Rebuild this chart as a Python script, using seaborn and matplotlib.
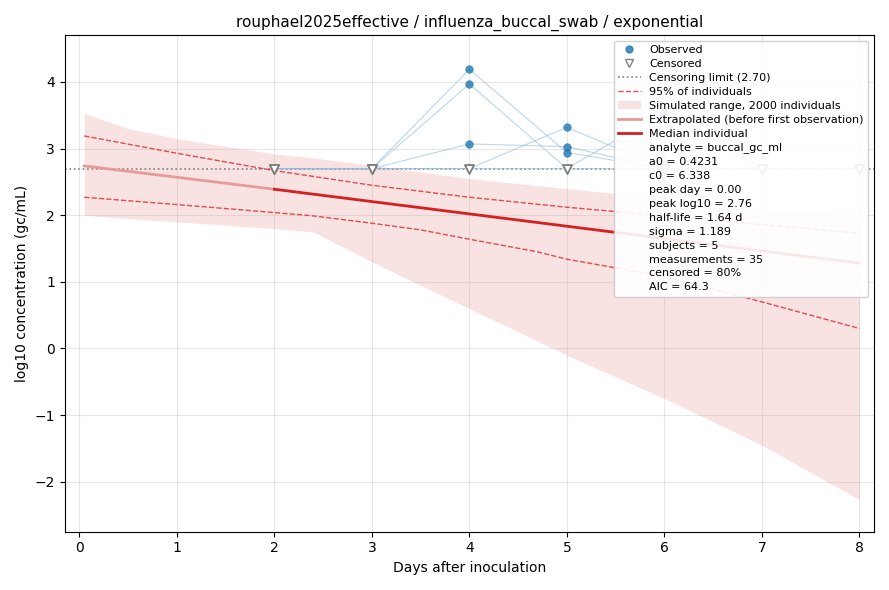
import numpy as np
import pandas as pd
import seaborn as sns
import matplotlib
matplotlib.use("Agg")
import matplotlib.pyplot as plt
from matplotlib.lines import Line2D

LOD = 2.70
days = [2, 3, 4, 5, 6, 7, 8]
# NaN = censored at LOD
subjects = {
    "A": [np.nan, np.nan, 4.19, 2.94, np.nan, np.nan, np.nan],
    "B": [np.nan, np.nan, 3.97, np.nan, np.nan, np.nan, np.nan],
    "C": [np.nan, np.nan, 3.07, 3.03, np.nan, np.nan, np.nan],
    "D": [np.nan, np.nan, np.nan, 3.32, np.nan, np.nan, np.nan],
    "E": [np.nan, np.nan, np.nan, np.nan, 3.55, np.nan, np.nan],
}

extrap_x = [0.05, 2.0]
extrap_y = [2.74, 2.39]
median_x = [2.0, 8.0]
median_y = [2.39, 1.28]
upper95_x = [0.05, 1, 2, 3, 4, 5, 6, 7, 8]
upper95_y = [3.19, 2.93, 2.67, 2.45, 2.27, 2.12, 1.99, 1.86, 1.73]
lower95_x = [0.05, 1, 2, 2.4, 3, 3.5, 4, 4.7, 5, 6, 7, 8]
lower95_y = [2.27, 2.16, 2.04, 1.99, 1.88, 1.78, 1.64, 1.45, 1.34, 1.08, 0.70, 0.30]
band_x = [0.05, 0.5, 1, 2, 2.4, 3, 4, 5, 6, 7, 8]
band_hi = [3.53, 3.30, 3.15, 2.92, 2.86, 2.75, 2.55, 2.40, 2.25, 2.10, 1.98]
band_lo = [2.00, 1.95, 1.90, 1.80, 1.75, 1.30, 0.60, -0.10, -0.75, -1.45, -2.27]

stats = ["analyte = buccal_gc_ml", "a0 = 0.4231", "c0 = 6.338", "peak day = 0.00",
         "peak log10 = 2.76", "half-life = 1.64 d", "sigma = 1.189", "subjects = 5",
         "measurements = 35", "censored = 80%", "AIC = 64.3"]

fig, ax = plt.subplots(figsize=(8.89, 5.90), dpi=100)
ax.grid(True, alpha=0.3, zorder=0)

rows = []
for s, vals in subjects.items():
    for d, v in zip(days, vals):
        rows.append({"subject": s, "day": d, "value": LOD if np.isnan(v) else v,
                     "censored": np.isnan(v)})
df = pd.DataFrame(rows)

for s, g in df.groupby("subject"):
    ax.plot(g["day"], g["value"], color="#8fbce0", lw=0.8, alpha=0.6, zorder=2)

ax.axhline(LOD, color="gray", ls=":", lw=1.2, zorder=1)
ax.fill_between(band_x, band_lo, band_hi, color="#f2b8b8", alpha=0.4, lw=0, zorder=0)
sns.lineplot(x=upper95_x, y=upper95_y, ax=ax, color="#e03030", ls="--", lw=1, alpha=0.85)
sns.lineplot(x=lower95_x, y=lower95_y, ax=ax, color="#e03030", ls="--", lw=1, alpha=0.85)
sns.lineplot(x=extrap_x, y=extrap_y, ax=ax, color="#e89a9a", lw=2)
sns.lineplot(x=median_x, y=median_y, ax=ax, color="#d62020", lw=2)

obs = df[~df["censored"]]
cen = df[df["censored"]]
sns.scatterplot(data=obs, x="day", y="value", ax=ax, color="#1f77b4", s=30,
                alpha=0.8, edgecolor="#1f77b4", zorder=4)
ax.scatter(cen["day"], cen["value"], marker="v", s=40, facecolor="white",
           edgecolor="gray", linewidth=1.2, zorder=4)

handles = [
    Line2D([], [], marker="o", ls="", color="#1f77b4", alpha=0.8, markersize=5),
    Line2D([], [], marker="v", ls="", markerfacecolor="white", markeredgecolor="gray", markersize=6),
    Line2D([], [], color="gray", ls=":", lw=1.2),
    Line2D([], [], color="#e03030", ls="--", lw=1, alpha=0.85),
    plt.Rectangle((0, 0), 1, 1, color="#f2b8b8", alpha=0.4, lw=0),
    Line2D([], [], color="#e89a9a", lw=2),
    Line2D([], [], color="#d62020", lw=2),
] + [Line2D([], [], ls="", marker="") for _ in stats]
labels = ["Observed", "Censored", "Censoring limit (2.70)", "95% of individuals",
          "Simulated range, 2000 individuals", "Extrapolated (before first observation)",
          "Median individual"] + stats
ax.legend(handles, labels, loc="upper right", fontsize=8, framealpha=0.9,
          handlelength=2.0, labelspacing=0.35, borderpad=0.4)

ax.set_xlim(-0.15, 8.15)
ax.set_ylim(-2.75, 4.7)
ax.set_xlabel("Days after inoculation")
ax.set_ylabel("log10 concentration (gc/mL)")
ax.set_title("rouphael2025effective / influenza_buccal_swab / exponential", fontsize=11)
fig.tight_layout()
fig.savefig("out.png", dpi=100)
